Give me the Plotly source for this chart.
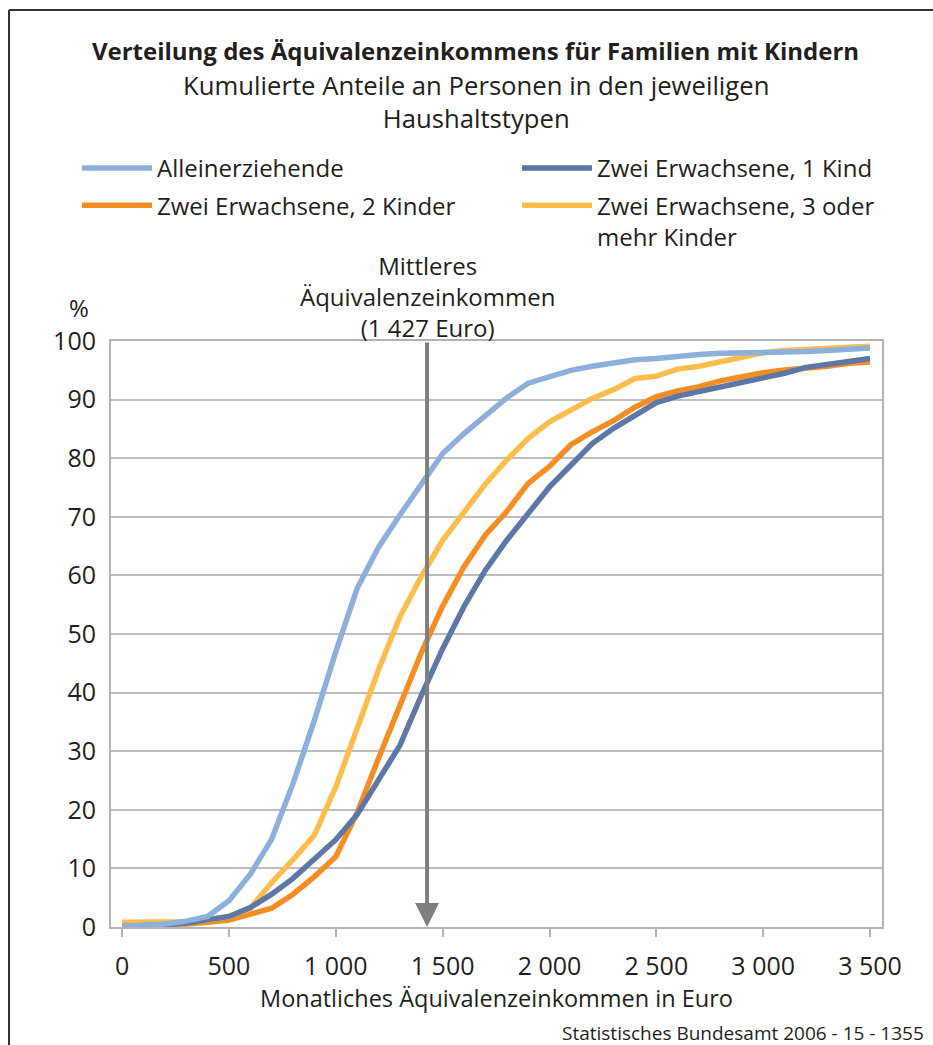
import plotly.graph_objects as go

# ---------------- data ----------------
income = list(range(0, 3600, 100))

allein = [0.1, 0.2, 0.5, 1.0, 1.8, 4.5, 9.0, 15.0, 24.5, 35.3, 47.0, 57.8, 64.8, 70.3,
          75.5, 80.8, 84.2, 87.4, 90.3, 92.8, 94.0, 95.0, 95.7, 96.3, 96.8, 97.0, 97.4,
          97.7, 97.9, 97.95, 98.05, 98.1, 98.2, 98.4, 98.6, 98.8]
ein_kind = [0.1, 0.2, 0.4, 0.7, 1.2, 1.8, 3.3, 5.6, 8.3, 11.6, 14.9, 19.2, 25.0, 31.0,
            39.5, 47.5, 54.7, 60.9, 66.0, 70.5, 75.1, 78.8, 82.5, 85.1, 87.4, 89.5, 90.6,
            91.35, 92.2, 92.8, 93.6, 94.5, 95.5, 96.1, 96.5, 97.0]
zwei_kinder = [0.3, 0.3, 0.4, 0.5, 0.8, 1.2, 2.2, 3.2, 5.6, 8.6, 12.0, 19.5, 28.8, 38.0,
               46.8, 54.8, 61.5, 66.9, 70.9, 75.7, 78.6, 82.3, 84.5, 86.4, 88.7, 90.5, 91.5,
               92.2, 93.2, 93.9, 94.6, 95.05, 95.3, 95.7, 96.2, 96.4]
drei_kinder = [0.8, 0.8, 0.8, 0.9, 1.2, 1.8, 3.2, 7.6, 11.5, 15.7, 23.9, 34.2, 43.9, 52.9,
               59.8, 66.0, 70.9, 75.6, 79.7, 83.4, 86.2, 88.3, 90.2, 91.7, 93.6, 94.0, 95.2,
               95.7, 96.5, 97.3, 98.0, 98.4, 98.6, 98.8, 99.0, 99.1]

names = ["Alleinerziehende", "Zwei Erwachsene, 1 Kind",
         "Zwei Erwachsene, 2 Kinder", "Zwei Erwachsene, 3 oder<br>mehr Kinder"]
colors = ["#8cafdc", "#5d77a6", "#f68d22", "#fdbd4d"]
legend_column = ["legend", "legend2", "legend", "legend2"]

median_income = 1427
x_ticks = [0, 500, 1000, 1500, 2000, 2500, 3000, 3500]
y_ticks = list(range(0, 101, 10))

# ---------------- layout geometry ----------------
W, H = 933, 1045
ML, MR, MT, MB = 111, 51, 341, 118
PW, PH = W - ML - MR, H - MT - MB


def px(xp):
    return (xp - ML) / PW


def py(yp):
    return (H - MB - yp) / PH


FONT = "Open Sans"
TXT = "#231f20"

fig = go.Figure()
all_series = [allein, ein_kind, zwei_kinder, drei_kinder]
draw_order = [2, 3, 1, 0]
for idx in draw_order:
    fig.add_trace(go.Scatter(
        x=income, y=all_series[idx], mode="lines", name=names[idx],
        line=dict(color=colors[idx], width=5.5),
        legend=legend_column[idx], legendgroup="g%d" % idx,
        legendrank=idx + 1, hoverinfo="skip",
    ))

legend_common = dict(
    xanchor="left", yanchor="top", itemwidth=70, tracegroupgap=3,
    font=dict(size=24, family=FONT, color=TXT),
    bgcolor="rgba(0,0,0,0)", valign="top",
)

fig.update_layout(
    width=W, height=H,
    margin=dict(l=ML, r=MR, t=MT, b=MB, autoexpand=False),
    paper_bgcolor="white", plot_bgcolor="white",
    font=dict(family=FONT, size=24, color=TXT),
    separators=", ",
    showlegend=True,
    title=dict(
        text="<b>Verteilung des Äquivalenzeinkommens für Familien mit Kindern</b>",
        x=475.5 / W, xanchor="center", xref="container",
        y=1 - 52 / H, yanchor="middle", yref="container",
        font=dict(size=24, family=FONT, color=TXT),
    ),
    legend=dict(x=px(77), y=py(146), **legend_common),
    legend2=dict(x=px(517), y=py(146), **legend_common),
    xaxis=dict(
        range=[-52, 3556], tickvals=x_ticks, tickformat=",d",
        showgrid=False, zeroline=False,
        showline=True, linecolor="#b3b3b3", linewidth=2, mirror=True,
        ticks="outside", ticklen=8, tickwidth=1.5, tickcolor="#b3b3b3",
        ticklabelstandoff=8,
        tickfont=dict(size=25, family=FONT, color=TXT),
        title=dict(text="Monatliches Äquivalenzeinkommen in Euro",
                   font=dict(size=23.5, family=FONT, color=TXT), standoff=10),
    ),
    yaxis=dict(
        range=[0, 100], tickvals=y_ticks,
        showgrid=True, gridcolor="#bdbdbd", gridwidth=1.5, zeroline=False,
        showline=True, linecolor="#b3b3b3", linewidth=2, mirror=True,
        ticks="", ticklabelstandoff=8,
        tickfont=dict(size=25, family=FONT, color=TXT),
    ),
)

annotations = [
    # subtitle
    dict(text="Kumulierte Anteile an Personen in den jeweiligen<br>Haushaltstypen",
         xref="paper", yref="paper", x=px(476), y=py(102), xanchor="center", yanchor="middle",
         showarrow=False, font=dict(size=25.7, family=FONT, color=TXT)),
    # median arrow
    dict(text="", x=median_income, y=0, xref="x", yref="y",
         ax=median_income, ay=100, axref="x", ayref="y",
         showarrow=True, arrowhead=2, arrowsize=1.2, arrowwidth=4,
         arrowcolor="#7f7f82", standoff=0, startstandoff=0),
    dict(text="Mittleres<br>Äquivalenzeinkommen<br>(1 427 Euro)",
         x=median_income, xref="x", y=py(296), yref="paper",
         xanchor="center", yanchor="middle", showarrow=False,
         font=dict(size=24, family=FONT, color=TXT)),
    # percent sign
    dict(text="%", xref="paper", yref="paper", x=px(79), y=py(307),
         xanchor="center", yanchor="middle", showarrow=False,
         font=dict(size=24, family=FONT, color=TXT)),
    # source
    dict(text="Statistisches Bundesamt 2006 - 15 - 1355", xref="paper", yref="paper",
         x=px(926), y=py(1033), xanchor="right", yanchor="middle", showarrow=False,
         font=dict(size=19, family=FONT, color=TXT)),
]
fig.update_layout(annotations=annotations)

# outer frame (top and left edges visible)
fig.add_shape(type="line", xref="paper", yref="paper", x0=px(9), x1=px(W + 5),
              y0=py(10), y1=py(10), line=dict(color="#333333", width=2))
fig.add_shape(type="line", xref="paper", yref="paper", x0=px(9), x1=px(9),
              y0=py(10), y1=py(H + 5), line=dict(color="#333333", width=2))

fig.write_html(
    "out.html",
    config={"displayModeBar": False},
    post_script="document.body.style.margin='0';document.body.style.overflow='hidden';",
)
